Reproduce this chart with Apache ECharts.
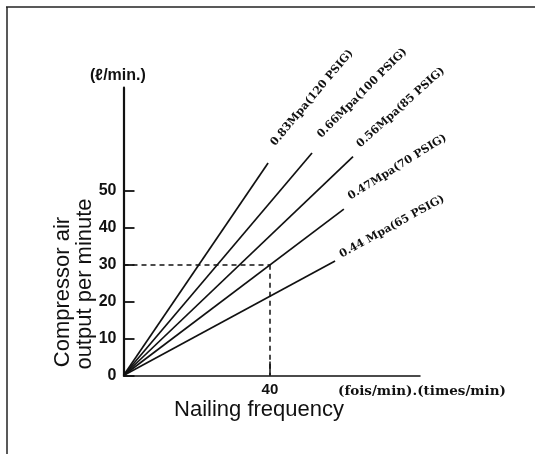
<!DOCTYPE html>
<html>
<head>
<meta charset="utf-8">
<script src="https://cdn.jsdelivr.net/npm/echarts@6/dist/echarts.min.js"></script>
<style>
html, body { margin: 0; padding: 0; background: #fff; }
#chart { width: 535px; height: 454px; }
</style>
</head>
<body>
<div id="chart"></div>
<script>
// line labels (pressure)
const pressureLabels = [
  '0.83Mpa(120 PSIG)',
  '0.66Mpa(100 PSIG)',
  '0.56Mpa(85 PSIG)',
  '0.47Mpa(70 PSIG)',
  '0.44 Mpa(65 PSIG)'
];
// each line starts at origin and ends here
const endX = [39.5, 51.5, 62.7, 60.2, 57.8];
const endY = [57.6, 60.3, 59.3, 45.1, 31.0];
// reading example: 40 nails/min -> 30 l/min
const refPoint = [40, 30];
const yTickValues = [0, 10, 20, 30, 40, 50];
const xTickValues = [40];

// label angle and nudge from line end (style only)
const labelAngle = [50, 45, 42, 32, 29];
const labelNudge = [[9, -15], [11, -13], [9, -7], [8, -7], [8, -1]];

const chart = echarts.init(document.getElementById('chart'));

const series = pressureLabels.map((name, i) => ({
  name: name,
  type: 'line',
  symbol: 'none',
  silent: true,
  lineStyle: { color: '#111', width: 1.7 },
  data: [[0, 0], [endX[i], endY[i]]]
}));

series[3].markLine = {
  silent: true,
  symbol: 'none',
  label: { show: false },
  lineStyle: { color: '#111', type: [5, 4], width: 1.5 },
  data: [
    [{ coord: [0, refPoint[1]] }, { coord: refPoint }],
    [{ coord: refPoint }, { coord: [refPoint[0], 0] }]
  ]
};

chart.setOption({
  animation: false,
  backgroundColor: '#fff',
  grid: { left: 123.5, right: 115, top: 87.7, bottom: 78.5 },
  xAxis: {
    type: 'value',
    min: 0,
    max: 81,
    splitLine: { show: false },
    axisLine: { lineStyle: { color: '#111', width: 1.5 } },
    axisTick: { inside: true, length: 14, customValues: xTickValues, lineStyle: { color: '#111', width: 1.5 } },
    axisLabel: {
      customValues: xTickValues,
      color: '#111',
      fontFamily: 'Liberation Sans',
      fontWeight: 'bold',
      fontSize: 15,
      margin: 7
    }
  },
  yAxis: {
    type: 'value',
    min: 0,
    max: 78,
    splitLine: { show: false },
    axisLine: { lineStyle: { color: '#111', width: 2.2 } },
    axisTick: { inside: true, length: 11, customValues: yTickValues, lineStyle: { color: '#111', width: 1.8 } },
    axisLabel: {
      customValues: yTickValues,
      color: '#111',
      fontFamily: 'Liberation Sans',
      fontWeight: 'bold',
      fontSize: 16,
      margin: 7
    }
  },
  series: series
});

// text and frame placed after scales exist
const graphics = [
  { type: 'line', shape: { x1: 6, y1: 7, x2: 535, y2: 7 }, style: { stroke: '#222', lineWidth: 1.5 } },
  { type: 'line', shape: { x1: 7, y1: 7, x2: 7, y2: 454 }, style: { stroke: '#222', lineWidth: 1.5 } },
  {
    type: 'text', x: 90, y: 76,
    style: { text: '(ℓ/min.)', font: 'bold 16px "Liberation Sans"', fill: '#111', textAlign: 'left', textVerticalAlign: 'middle' }
  },
  {
    type: 'text', x: 63, y: 292, rotation: Math.PI / 2,
    style: { text: 'Compressor air', font: '22px "Liberation Sans"', fill: '#111', textAlign: 'center', textVerticalAlign: 'middle' }
  },
  {
    type: 'text', x: 85, y: 284, rotation: Math.PI / 2,
    style: { text: 'output per minute', font: '22px "Liberation Sans"', fill: '#111', textAlign: 'center', textVerticalAlign: 'middle' }
  },
  {
    type: 'text', x: 259, y: 410,
    style: { text: 'Nailing frequency', font: '22px "Liberation Sans"', fill: '#111', textAlign: 'center', textVerticalAlign: 'middle' }
  },
  {
    type: 'text', x: 338, y: 391,
    style: { text: '(fois/min).(times/min)', font: 'bold 13.5px "DejaVu Serif"', fill: '#111', textAlign: 'left', textVerticalAlign: 'middle' }
  }
];

pressureLabels.forEach((name, i) => {
  const p = chart.convertToPixel({ gridIndex: 0 }, [endX[i], endY[i]]);
  graphics.push({
    type: 'text',
    x: p[0] + labelNudge[i][0],
    y: p[1] + labelNudge[i][1],
    rotation: labelAngle[i] * Math.PI / 180,
    style: { text: name, font: 'bold 11px "DejaVu Serif"', fill: '#111', textAlign: 'left', textVerticalAlign: 'bottom' }
  });
});

chart.setOption({ graphic: graphics });
</script>
</body>
</html>
